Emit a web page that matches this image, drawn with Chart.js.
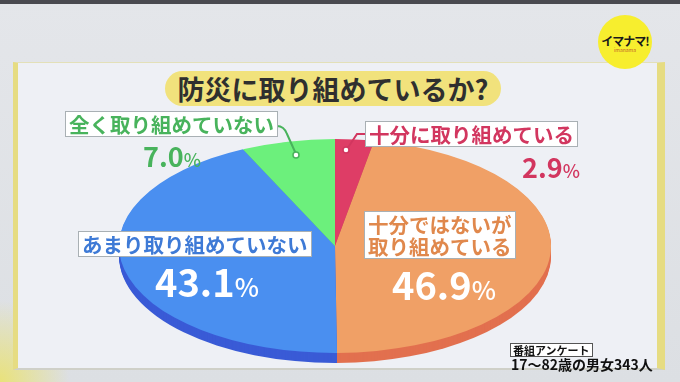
<!DOCTYPE html>
<html lang="ja">
<head>
<meta charset="utf-8">
<script src="https://cdn.jsdelivr.net/npm/chart.js@4.4.1/dist/chart.umd.min.js"></script>
<style>
  html, body { margin:0; padding:0; }
  body {
    width:680px; height:382px; overflow:hidden; position:relative;
    background: linear-gradient(180deg, #e4e6ea 0%, #dcdfe3 100%);
    font-family: "Noto Sans CJK JP", "Noto Sans", sans-serif;
  }
  .topbar { position:absolute; left:0; top:0; width:680px; height:4px; background:#4a4a50; }
  .glow { position:absolute; left:0; top:300px; width:70px; height:82px;
    background: radial-gradient(ellipse at 0% 100%, #e9e27a 0%, rgba(233,226,122,0) 70%); }
  .panel {
    position:absolute; left:13px; top:62px; width:652px; height:308px; box-sizing:border-box;
    background:#eef0f5; border-left:5px solid #e6dc82; border-right:8px solid #e6dc82;
    border-top:1px solid #e3e0b8; border-bottom:2px solid #cfd0c8;
  }
  .logo { position:absolute; left:598px; top:15px; width:54px; height:54px; border-radius:50%;
    background:#f7ee2e; text-align:center; }
  .logo b { display:block; font-size:12px; line-height:13px; margin-top:19px; color:#1a1a1a; letter-spacing:-1px; }
  .logo i { display:block; font-size:5px; line-height:6px; color:#c0602a; font-style:normal; }
  .title {
    position:absolute; left:165px; top:71px; width:336px; height:35px; border-radius:18px;
    background:#f1e27c; color:#2f2f2f; font-weight:700; font-size:27px; line-height:35px; text-align:center;
  }
  #wrap { position:absolute; left:119px; top:30px; width:432px; height:432px; }
  .box { position:absolute; background:#ffffff; font-weight:700; font-size:20.5px; line-height:22px;
    padding:1px 3px; border:1px solid #a9b0b4; white-space:nowrap; }
  .pct { position:absolute; font-weight:700; white-space:nowrap; }
  .pct span { font-size:0.68em; font-weight:500; }
  .lead { position:absolute; left:0; top:0; }
  .note1 { position:absolute; left:510px; top:343px; font-size:11px; line-height:12px; padding:0 2px;
    background:#fff; border:1px solid #555; color:#111; font-weight:700; }
  .note2 { position:absolute; left:511px; top:356px; font-size:14px; line-height:16px; color:#111; font-weight:700; white-space:nowrap; }
</style>
</head>
<body>
<div class="topbar"></div>
<div class="glow"></div>
<div class="panel"></div>
<div class="logo"><b>イマナマ!</b><i>imanama</i></div>
<div class="title">防災に取り組めているか?</div>
<div id="wrap"><canvas id="pie" width="432" height="432"></canvas></div>

<svg class="lead" width="680" height="382">
  <path d="M277 126 Q284 126 287 134 L296 154" fill="none" stroke="#48b35c" stroke-width="2"/>
  <circle cx="296" cy="155" r="3" fill="#fff" stroke="#48b35c" stroke-width="1.5"/>
  <path d="M365 134 L357 134 L347 149" fill="none" stroke="#d2365f" stroke-width="2"/>
  <circle cx="346" cy="150" r="3" fill="#fff" stroke="#d2365f" stroke-width="1.5"/>
</svg>

<div id="labels"></div>
<div class="note1">番組アンケート</div>
<div class="note2">17〜82歳の男女343人</div>

<script>
// answers, clockwise from 12 o'clock
const categories = ["十分に取り組めている", "十分ではないが\n取り組めている", "あまり取り組めていない", "全く取り組めていない"];
const shares = [2.9, 46.9, 43.1, 7.0];
const topColors = ["#de3d66", "#f0a066", "#4a8ff0", "#6cf07c"];
const sideColors = ["#b02a52", "#e2704f", "#3a5bd6", "#4cc85a"];
const textColors = ["#d2365f", "#e0884c", "#3e7ad6", "#48b35c"];

const TILT = 0.495;   // vertical squash of the disc
const DEPTH = 10;     // thickness in px

// label placement (box position, percent position, percent colour/size)
const labelPos = [
  { box:[365,121], pct:[522,153], size:27, white:false },
  { box:[364,211], pct:[392,265], size:38, white:true },
  { box:[78,231],  pct:[155,262], size:38, white:true },
  { box:[65,111],  pct:[143,142], size:27, white:false }
];

function renderLabels(){
  const host = document.getElementById('labels');
  categories.forEach((c, i) => {
    const p = labelPos[i];
    const b = document.createElement('div');
    b.className = 'box';
    b.style.left = p.box[0] + 'px';
    b.style.top = p.box[1] + 'px';
    b.style.color = textColors[i];
    b.innerHTML = c.replace('\n', '<br>');
    host.appendChild(b);
    const t = document.createElement('div');
    t.className = 'pct';
    t.style.left = p.pct[0] + 'px';
    t.style.top = p.pct[1] + 'px';
    t.style.fontSize = p.size + 'px';
    t.style.lineHeight = p.size + 'px';
    t.style.color = p.white ? '#ffffff' : textColors[i];
    t.innerHTML = shares[i].toFixed(1) + '<span>%</span>';
    host.appendChild(t);
  });
}

// squash the pie into an ellipse and give it some thickness
const tiltPlugin = {
  id: 'tilt',
  beforeDatasetsDraw(chart){
    const ctx = chart.ctx;
    const arcs = chart.getDatasetMeta(0).data;
    const cx = arcs[0].x, cy = arcs[0].y;
    ctx.save();
    ctx.translate(cx, cy);
    ctx.scale(1, TILT);
    ctx.translate(-cx, -cy);
    for (let d = DEPTH; d > 0; d -= 1) {
      arcs.forEach((arc, i) => {
        const p = arc.getProps(['x','y','startAngle','endAngle','outerRadius']);
        const oy = p.y + d / TILT;
        ctx.beginPath();
        ctx.moveTo(p.x, oy);
        ctx.arc(p.x, oy, p.outerRadius, p.startAngle, p.endAngle);
        ctx.closePath();
        ctx.fillStyle = sideColors[i];
        ctx.fill();
      });
    }
  },
  afterDatasetsDraw(chart){
    chart.ctx.restore();
  }
};

function renderChart(){
  const ctx = document.getElementById('pie').getContext('2d');
  new Chart(ctx, {
    type: 'pie',
    data: {
      labels: categories,
      datasets: [{
        data: shares,
        backgroundColor: topColors,
        borderWidth: 0,
        hoverOffset: 0
      }]
    },
    options: {
      responsive: false,
      animation: false,
      events: [],
      layout: { padding: 0 },
      plugins: { legend: { display: false }, tooltip: { enabled: false } }
    },
    plugins: [tiltPlugin]
  });
}

renderLabels();
renderChart();
</script>
</body>
</html>
